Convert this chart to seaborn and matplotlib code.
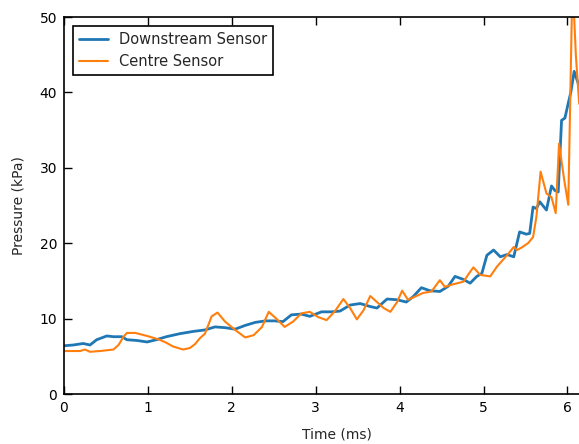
import matplotlib
matplotlib.use("Agg")
import matplotlib.pyplot as plt
import seaborn as sns

# Downstream sensor
down_t = [0.0, 0.11, 0.23, 0.31, 0.39, 0.51, 0.59, 0.69, 0.75, 0.87,
          0.99, 1.10, 1.22, 1.38, 1.54, 1.68, 1.80, 1.92, 2.04, 2.16,
          2.28, 2.40, 2.51, 2.61, 2.71, 2.83, 2.93, 3.07, 3.19, 3.29,
          3.41, 3.53, 3.65, 3.73, 3.85, 3.97, 4.08, 4.16, 4.26, 4.36,
          4.48, 4.58, 4.66, 4.76, 4.84, 4.92, 4.98, 5.04, 5.12, 5.20,
          5.28, 5.36, 5.43, 5.51, 5.55, 5.59, 5.63, 5.67, 5.75, 5.81,
          5.85, 5.89, 5.93, 5.97, 6.01, 6.04, 6.08, 6.14]
down_p = [6.4, 6.5, 6.7, 6.5, 7.2, 7.7, 7.6, 7.6, 7.2, 7.1,
          6.9, 7.2, 7.6, 8.0, 8.3, 8.5, 8.9, 8.8, 8.6, 9.1,
          9.5, 9.7, 9.7, 9.6, 10.5, 10.6, 10.3, 10.9, 10.9, 11.0,
          11.8, 12.0, 11.6, 11.4, 12.6, 12.5, 12.2, 12.9, 14.1, 13.7,
          13.6, 14.3, 15.6, 15.2, 14.7, 15.6, 16.0, 18.4, 19.1, 18.2,
          18.5, 18.2, 21.5, 21.2, 21.3, 24.8, 24.6, 25.5, 24.4, 27.6,
          27.0, 26.8, 36.3, 36.6, 38.6, 40.0, 42.8, 40.8]

# Centre sensor
centre_t = [0.00, 0.19, 0.25, 0.31, 0.43, 0.59, 0.65, 0.71, 0.75, 0.85,
            0.99, 1.14, 1.22, 1.30, 1.42, 1.50, 1.56, 1.62, 1.68, 1.76,
            1.83, 1.92, 2.04, 2.16, 2.26, 2.36, 2.44, 2.53, 2.63, 2.73,
            2.83, 2.93, 3.03, 3.13, 3.23, 3.33, 3.41, 3.49, 3.57, 3.65,
            3.73, 3.81, 3.89, 3.97, 4.03, 4.10, 4.18, 4.28, 4.38, 4.48,
            4.54, 4.62, 4.76, 4.84, 4.88, 4.96, 5.08, 5.16, 5.28, 5.36,
            5.40, 5.45, 5.53, 5.59, 5.63, 5.68, 5.75, 5.81, 5.86, 5.90,
            5.96, 6.01, 6.06, 6.10, 6.14]
centre_p = [5.7, 5.7, 5.9, 5.6, 5.7, 5.9, 6.5, 7.6, 8.1, 8.1,
            7.7, 7.2, 6.8, 6.3, 5.9, 6.1, 6.6, 7.4, 8.0, 10.3,
            10.8, 9.6, 8.5, 7.5, 7.8, 8.9, 10.9, 10.0, 8.9, 9.6,
            10.7, 10.9, 10.2, 9.8, 11.0, 12.6, 11.4, 9.9, 11.1, 13.0,
            12.2, 11.4, 10.9, 12.2, 13.7, 12.5, 12.9, 13.4, 13.6, 15.1,
            14.2, 14.5, 14.9, 16.2, 16.8, 15.8, 15.6, 16.9, 18.4, 19.5,
            19.1, 19.4, 20.0, 20.8, 23.5, 29.5, 26.6, 26.1, 24.0, 33.2,
            28.5, 25.1, 55.0, 45.0, 38.5]

x_ticks = [0, 1, 2, 3, 4, 5, 6]
y_ticks = [0, 10, 20, 30, 40, 50]

sns.set_style("ticks", {"axes.edgecolor": "black", "axes.axisbelow": False})
plt.rcParams["font.family"] = ["DejaVu Sans"]

fig = plt.figure(figsize=(5.79, 4.44), dpi=100)
# axes run past the right edge of the figure, as in the reference
ax = fig.add_axes([0.1105, 0.1126, 0.942, 0.849])

sns.lineplot(x=down_t, y=down_p, ax=ax, color="#1f77b4", linewidth=2.0,
             label="Downstream Sensor", sort=False, estimator=None)
sns.lineplot(x=centre_t, y=centre_p, ax=ax, color="#ff7f0e", linewidth=1.5,
             label="Centre Sensor", sort=False, estimator=None)

ax.set_xlim(0, 6.5)
ax.set_ylim(0, 50)
ax.set_xticks(x_ticks)
ax.set_yticks(y_ticks)
ax.set_axisbelow(False)
ax.tick_params(axis="both", which="major", direction="in",
               bottom=True, top=True, left=True, right=True,
               length=6, width=1.0, labelsize=10,
               color="black", labelcolor="black", pad=5)
for s in ax.spines.values():
    s.set_linewidth(1.2)
ax.set_xlabel("Time (ms)", fontsize=10, labelpad=9)
ax.set_ylabel("Pressure (kPa)", fontsize=10, labelpad=10)

leg = ax.legend(loc="upper left", fontsize=10.5, fancybox=False,
                edgecolor="black", framealpha=1, borderaxespad=0.6)
leg.get_frame().set_linewidth(1.2)

fig.savefig("out.png", dpi=100)
